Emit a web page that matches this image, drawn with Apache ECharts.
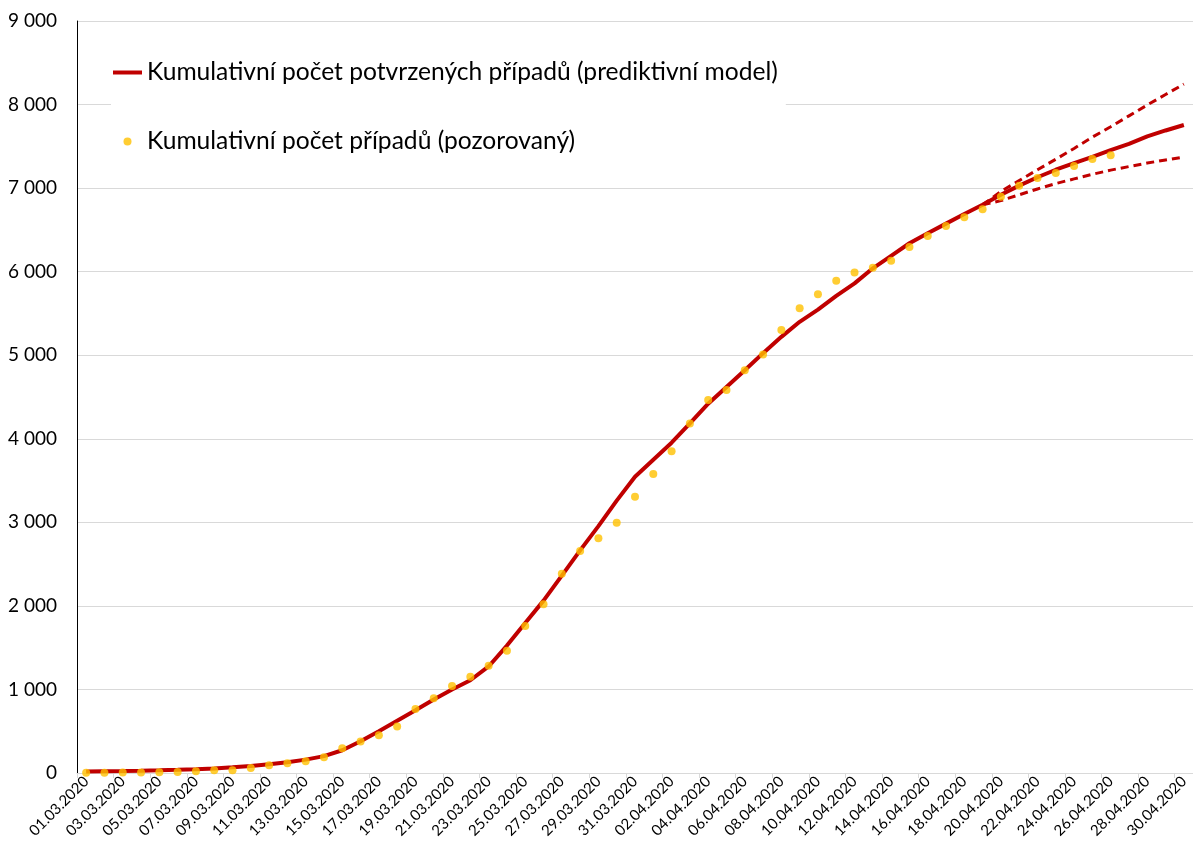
<!DOCTYPE html>
<html>
<head>
<meta charset="utf-8">
<script src="https://cdn.jsdelivr.net/npm/echarts@6/dist/echarts.min.js"></script>
<style>
html,body{margin:0;padding:0;background:#fff;}
#chart{width:1193px;height:845px;}
</style>
</head>
<body>
<div id="chart"></div>
<script>
// 01.03.2020 .. 30.04.2020
const categories = [];
(function(){
  for (let d = 1; d <= 31; d++) categories.push(String(d).padStart(2,'0') + '.03.2020');
  for (let d = 1; d <= 30; d++) categories.push(String(d).padStart(2,'0') + '.04.2020');
})();

const seriesNames = [
  'Kumulativní počet potvrzených případů (prediktivní model)',
  'Kumulativní počet případů (pozorovaný)'
];

// predictive model (solid red line), one value per day
const modelValues = [
  17, 20, 23, 27, 32, 38, 45, 55, 68, 84,
  104, 128, 160, 202, 272, 380, 500, 625, 750, 880,
  1000, 1110, 1275, 1525, 1795, 2063, 2362, 2664, 2955, 3260,
  3545, 3750, 3953, 4185, 4420, 4620, 4820, 5025, 5220, 5400,
  5545, 5710, 5860, 6040, 6190, 6340, 6460, 6575, 6690, 6800,
  6920, 7030, 7130, 7220, 7300, 7375, 7455, 7530, 7620, 7690,
  7755
];

// observed cumulative cases (yellow dots)
const observedValues = [
  3, 3, 5, 5, 8, 12, 20, 32, 34, 60,
  92, 116, 140, 188, 295, 378, 451, 556, 766, 894,
  1041, 1153, 1284, 1464, 1759, 2019, 2386, 2657, 2809, 2996,
  3307, 3577, 3850, 4182, 4464, 4584, 4820, 5008, 5302, 5563,
  5730, 5890, 5990, 6047, 6131, 6295, 6427, 6546, 6650, 6746,
  6897, 7029, 7121, 7181, 7264, 7348, 7392
];

// upper / lower bounds of the prediction (dashed), from 19.04.2020
const upperValues = [
  6800, 6960, 7090, 7220, 7345, 7475, 7610, 7735, 7865, 7995, 8120, 8245
];
const lowerValues = [
  6800, 6850, 6920, 6990, 7055, 7110, 7165, 7215, 7258, 7300, 7337, 7372
];
const boundStart = 49; // index of 19.04.2020

const yTicks = { min: 0, max: 9000, interval: 1000 };

function padFrom(start, arr) {
  const out = new Array(categories.length).fill(null);
  arr.forEach((v, i) => { out[start + i] = v; });
  return out;
}

const RED = '#C00000';
const YELLOW = '#FFC000';

const chart = echarts.init(document.getElementById('chart'), null, {renderer: 'canvas'});
chart.setOption({
  backgroundColor: '#ffffff',
  animation: false,
  grid: { left: 77, top: 21, width: 1120.5, height: 752, containLabel: false },
  legend: {
    data: [
      { name: seriesNames[0], icon: 'path://M0,0 L29,0 L29,4 L0,4 Z', itemStyle: { color: RED } },
      { name: seriesNames[1], icon: 'circle', itemStyle: { color: YELLOW } }
    ],
    orient: 'vertical',
    left: 111,
    top: 58,
    itemWidth: 29,
    itemHeight: 8,
    itemGap: 44,
    padding: [2, 8, 2, 2],
    backgroundColor: '#ffffff',
    textStyle: { fontFamily: 'Lato', fontSize: 24.6, color: '#000000' }
  },
  xAxis: {
    type: 'category',
    data: categories,
    boundaryGap: true,
    axisLine: { show: true, lineStyle: { color: '#d9d9d9', width: 1 } },
    axisTick: { show: true, interval: 1, length: 5, lineStyle: { color: '#d9d9d9' } },
    axisLabel: {
      interval: 1,
      rotate: 45,
      margin: 6,
      fontFamily: 'Lato',
      fontSize: 15,
      color: '#000000'
    },
    splitLine: { show: false }
  },
  yAxis: {
    type: 'value',
    min: yTicks.min,
    max: yTicks.max,
    interval: yTicks.interval,
    axisLine: { show: true, lineStyle: { color: '#000000', width: 1 } },
    axisTick: { show: false },
    axisLabel: {
      margin: 20,
      fontFamily: 'Lato',
      fontSize: 19,
      color: '#000000',
      formatter: v => String(v).replace(/\B(?=(\d{3})+(?!\d))/g, ' ')
    },
    splitLine: { show: true, lineStyle: { color: '#d9d9d9', width: 1 } }
  },
  series: [
    {
      name: seriesNames[0],
      type: 'line',
      data: modelValues,
      symbol: 'none',
      smooth: false,
      lineStyle: { color: RED, width: 4 },
      itemStyle: { color: RED },
      z: 3
    },
    {
      name: 'upper',
      type: 'line',
      data: padFrom(boundStart, upperValues),
      symbol: 'none',
      lineStyle: { color: RED, width: 3, type: [8, 5] },
      itemStyle: { color: RED },
      z: 2
    },
    {
      name: 'lower',
      type: 'line',
      data: padFrom(boundStart, lowerValues),
      symbol: 'none',
      lineStyle: { color: RED, width: 3, type: [8, 5] },
      itemStyle: { color: RED },
      z: 2
    },
    {
      name: seriesNames[1],
      type: 'scatter',
      data: observedValues,
      symbol: 'circle',
      symbolSize: 8,
      itemStyle: { color: YELLOW },
      z: 4
    }
  ]
});
</script>
</body>
</html>
